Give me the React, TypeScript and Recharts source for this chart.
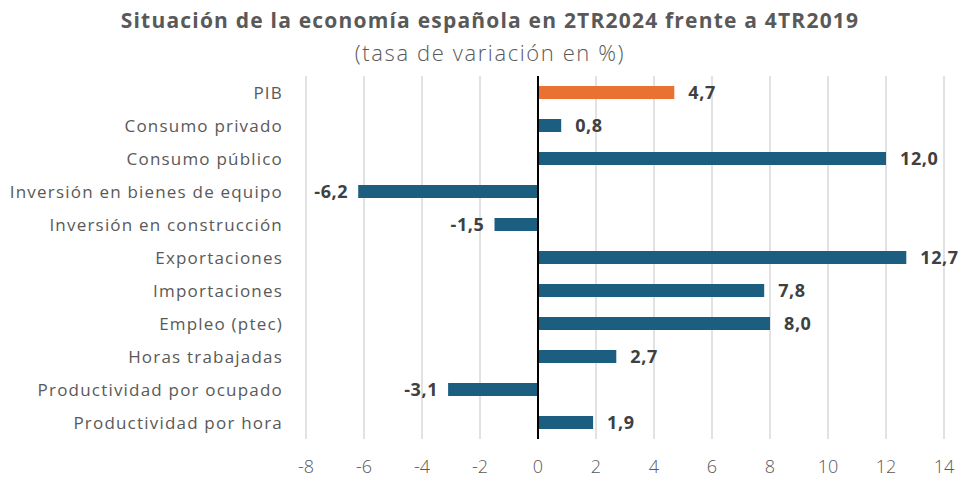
import React from 'react';
import { BarChart, Bar, XAxis, YAxis, CartesianGrid, ReferenceLine, Cell, LabelList } from 'recharts';

const categories = [
  'PIB',
  'Consumo privado',
  'Consumo público',
  'Inversión en bienes de equipo',
  'Inversión en construcción',
  'Exportaciones',
  'Importaciones',
  'Empleo (ptec)',
  'Horas trabajadas',
  'Productividad por ocupado',
  'Productividad por hora',
];
const values = [4.7, 0.8, 12.0, -6.2, -1.5, 12.7, 7.8, 8.0, 2.7, -3.1, 1.9];
const xTicks = [-8, -6, -4, -2, 0, 2, 4, 6, 8, 10, 12, 14];
const title = 'Situación de la economía española en 2TR2024 frente a 4TR2019';
const subtitle = '(tasa de variación en %)';

const data = categories.map((name, i) => ({ name, value: values[i] }));

const FONT = '"Open Sans", "Noto Sans", sans-serif';
const fmt = (v: number) => v.toFixed(1).replace('.', ',');

const ValueLabel = (props: any) => {
  const { x, y, width, height, value } = props;
  const neg = value < 0;
  const tx = neg ? Math.min(x, x + width) - 10 : Math.max(x, x + width) + 14;
  return (
    <text
      x={tx}
      y={y + height / 2 + 2}
      textAnchor={neg ? 'end' : 'start'}
      dominantBaseline="middle"
      fontFamily={FONT}
      fontWeight={700}
      fontSize={18}
      letterSpacing={0.6}
      fill="#404040"
    >
      {fmt(value)}
    </text>
  );
};

export default function App() {
  return (
    <div style={{ position: 'absolute', left: 0, top: 0, width: 960, height: 481, background: '#fff' }}>
      <div
        style={{
          position: 'absolute', left: 0, width: 980, top: 6, textAlign: 'center',
          fontFamily: FONT, fontWeight: 700, fontSize: 21, color: '#595959', letterSpacing: 1.2,
        }}
      >
        {title}
      </div>
      <div
        style={{
          position: 'absolute', left: 0, width: 980, top: 37, textAlign: 'center',
          fontFamily: FONT, fontWeight: 300, fontSize: 22, color: '#595959', letterSpacing: 1.6,
        }}
      >
        {subtitle}
      </div>
      <div style={{ position: 'absolute', left: 0, top: 0 }}>
        <BarChart
          width={960}
          height={481}
          data={data}
          layout="vertical"
          margin={{ top: 76, right: 16, bottom: 12, left: 0 }}
          barSize={13}
        >
          <CartesianGrid horizontal={false} stroke="#d9d9d9" strokeWidth={1.5} />
          <XAxis
            type="number"
            domain={[-8, 14]}
            ticks={xTicks}
            axisLine={false}
            tickLine={false}
            tickSize={0}
            tickMargin={21}
            height={30}
            tick={{ fontFamily: FONT, fontSize: 18, fill: '#595959', fontWeight: 300 }}
            tickFormatter={(v: number) => String(v)}
          />
          <YAxis
            type="category"
            dataKey="name"
            width={306}
            axisLine={false}
            tickLine={false}
            tickSize={0}
            tickMargin={23}
            interval={0}
            tick={{ fontFamily: FONT, fontSize: 17, fill: '#595959', letterSpacing: 1.2 }}
          />
          <ReferenceLine x={0} stroke="#000" strokeWidth={2} />
          <Bar dataKey="value" isAnimationActive={false}>
            {data.map((d) => (
              <Cell key={d.name} fill={d.name === 'PIB' ? '#E97132' : '#1B5E80'} />
            ))}
            <LabelList dataKey="value" content={<ValueLabel />} />
          </Bar>
        </BarChart>
      </div>
    </div>
  );
}
